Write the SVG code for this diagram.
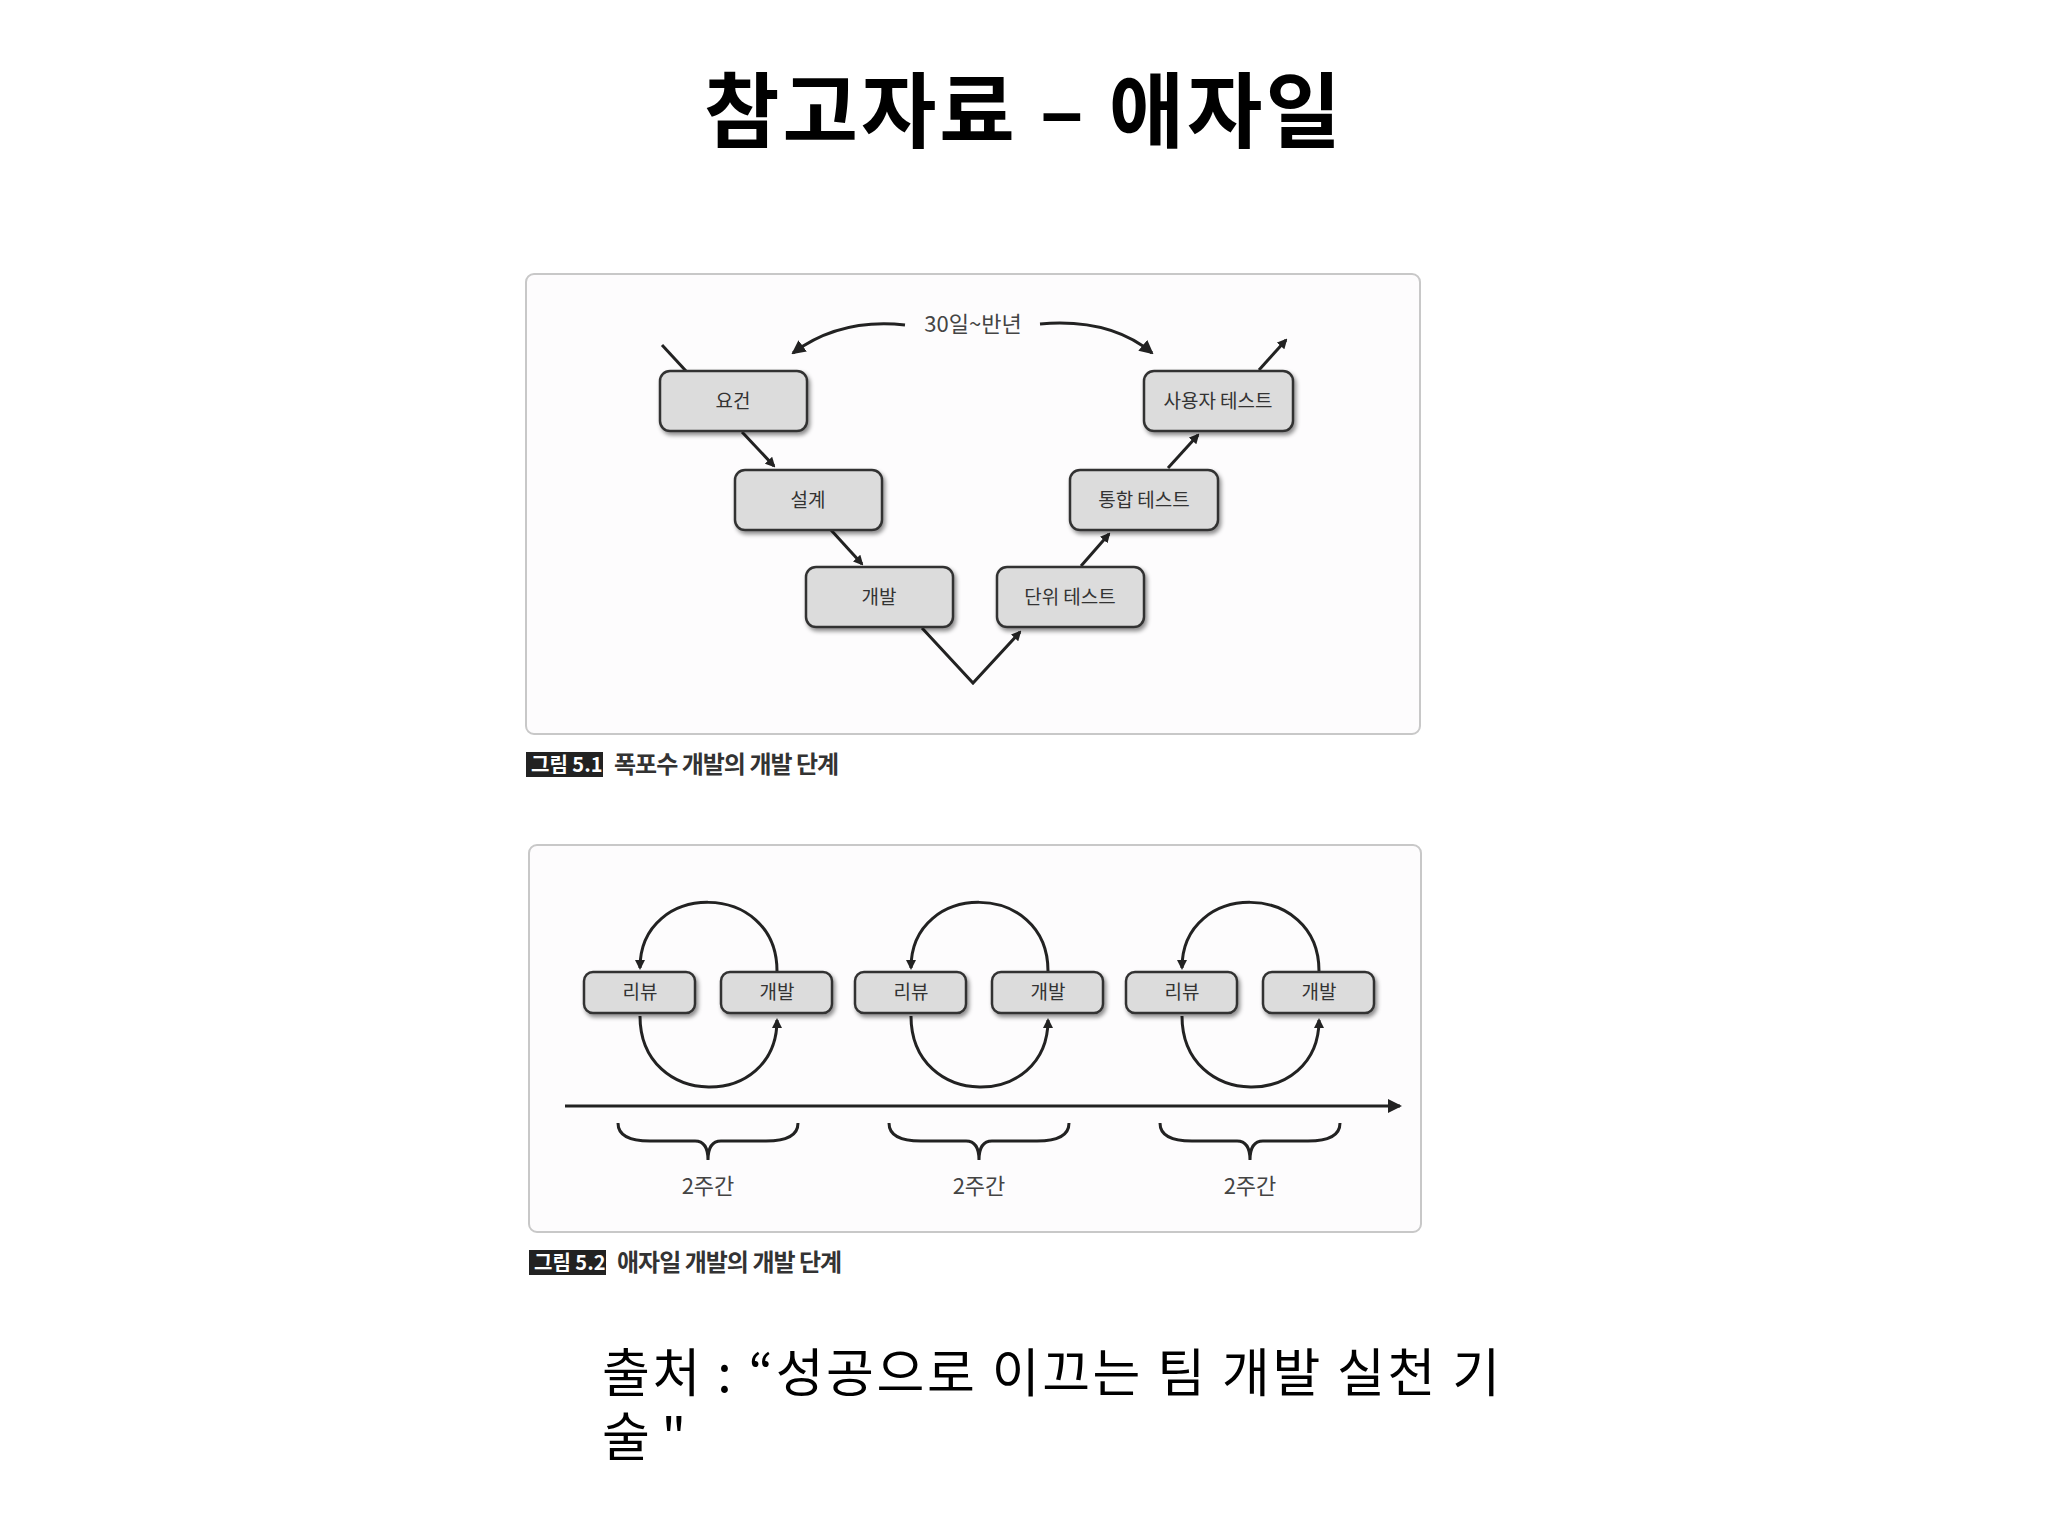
<svg xmlns="http://www.w3.org/2000/svg" width="2048" height="1536" viewBox="0 0 2048 1536">
<defs>
<marker id="ah" markerWidth="10" markerHeight="10" refX="8" refY="5" orient="auto" markerUnits="userSpaceOnUse"><path d="M0,0 L10,5 L0,10 z" fill="#222"/></marker>
<marker id="ahs" markerWidth="14" markerHeight="14" refX="12" refY="7" orient="auto" markerUnits="userSpaceOnUse"><path d="M0,0 L14,7 L0,14 z" fill="#222"/></marker>
<filter id="sh" x="-10%" y="-10%" width="130%" height="140%"><feDropShadow dx="2" dy="3" stdDeviation="2" flood-color="#000" flood-opacity="0.45"/></filter>
</defs>
<style>
text{font-family:"Noto Sans CJK KR","Liberation Sans",sans-serif;}
.panel{fill:#fdfcfd;stroke:#c8c8c8;stroke-width:2;}
.node rect{fill:#dcdcdc;stroke:#333;stroke-width:2.5;filter:url(#sh);}
.node text{font-size:19px;fill:#333;text-anchor:middle;}
.ln{fill:none;stroke:#222;stroke-width:3;}
.cap{font-size:24px;font-weight:bold;fill:#333;}
.capbox{fill:#222;}
.captxt{font-size:20px;font-weight:bold;fill:#fff;}
.lbl{font-size:22px;fill:#444;text-anchor:middle;}
</style>
<rect width="2048" height="1536" fill="#fff"/>
<text x="1024" y="141" font-size="82" font-weight="bold" text-anchor="middle" letter-spacing="3" fill="#000">참고자료 – 애자일</text>

<rect class="panel" x="526" y="274" width="894" height="460" rx="8"/>
<rect class="panel" x="529" y="845" width="892" height="387" rx="8"/>

<g id="cap1"><rect class="capbox" x="526" y="752" width="77" height="25"/><text class="captxt" x="531" y="772">그림 5.1</text><text class="cap" x="614" y="773" letter-spacing="-1">폭포수 개발의 개발 단계</text></g>
<g id="cap2"><rect class="capbox" x="529" y="1250" width="77" height="25"/><text class="captxt" x="534" y="1270">그림 5.2</text><text class="cap" x="617" y="1271" letter-spacing="-1">애자일 개발의 개발 단계</text></g>

<g id="connectors">
<line class="ln" x1="662" y1="345" x2="686" y2="371"/>
<line class="ln" x1="742" y1="432" x2="774" y2="466" marker-end="url(#ah)"/>
<line class="ln" x1="831" y1="530" x2="862" y2="564" marker-end="url(#ah)"/>
<polyline class="ln" points="922,628 973,683 1020,632" marker-end="url(#ah)"/>
<line class="ln" x1="1081" y1="566" x2="1109" y2="534" marker-end="url(#ah)"/>
<line class="ln" x1="1168" y1="468" x2="1198" y2="435" marker-end="url(#ah)"/>
<line class="ln" x1="1259" y1="370" x2="1286" y2="340" marker-end="url(#ah)"/>
<path class="ln" d="M905,325 Q840,318 793,353" marker-end="url(#ahs)"/>
<path class="ln" d="M1040,324 Q1110,318 1152,353" marker-end="url(#ahs)"/>

<g id="loops">
<g transform="translate(0,0)">
<path class="ln" stroke-width="2" d="M777,971 C777,880 640,880 640,968" marker-end="url(#ah)"/>
<path class="ln" stroke-width="2" d="M640,1016 C640,1110 777,1110 777,1020" marker-end="url(#ah)"/>
<path class="ln" stroke-width="2" d="M618,1123 Q618,1141 650,1141 L695,1141 Q708,1141 708,1160 M708,1160 Q708,1141 721,1141 L766,1141 Q798,1141 798,1123"/>
</g>
<g transform="translate(271,0)">
<path class="ln" stroke-width="2" d="M777,971 C777,880 640,880 640,968" marker-end="url(#ah)"/>
<path class="ln" stroke-width="2" d="M640,1016 C640,1110 777,1110 777,1020" marker-end="url(#ah)"/>
<path class="ln" stroke-width="2" d="M618,1123 Q618,1141 650,1141 L695,1141 Q708,1141 708,1160 M708,1160 Q708,1141 721,1141 L766,1141 Q798,1141 798,1123"/>
</g>
<g transform="translate(542,0)">
<path class="ln" stroke-width="2" d="M777,971 C777,880 640,880 640,968" marker-end="url(#ah)"/>
<path class="ln" stroke-width="2" d="M640,1016 C640,1110 777,1110 777,1020" marker-end="url(#ah)"/>
<path class="ln" stroke-width="2" d="M618,1123 Q618,1141 650,1141 L695,1141 Q708,1141 708,1160 M708,1160 Q708,1141 721,1141 L766,1141 Q798,1141 798,1123"/>
</g>
</g>
<line class="ln" x1="565" y1="1106" x2="1400" y2="1106" marker-end="url(#ahs)"/>
</g>

<text class="lbl" x="973" y="332">30일~반년</text>

<g id="n-req" class="node"><rect x="660" y="371" width="147" height="60" rx="10"/><text x="733" y="408">요건</text></g>
<g id="n-design" class="node"><rect x="735" y="470" width="147" height="60" rx="10"/><text x="808" y="507">설계</text></g>
<g id="n-dev" class="node"><rect x="806" y="567" width="147" height="60" rx="10"/><text x="879" y="604">개발</text></g>
<g id="n-unit" class="node"><rect x="997" y="567" width="147" height="60" rx="10"/><text x="1070" y="604">단위 테스트</text></g>
<g id="n-int" class="node"><rect x="1070" y="470" width="148" height="60" rx="10"/><text x="1144" y="507">통합 테스트</text></g>
<g id="n-user" class="node"><rect x="1144" y="371" width="149" height="60" rx="10"/><text x="1218" y="408">사용자 테스트</text></g>

<g id="r1" class="node"><rect x="584" y="972" width="111" height="41" rx="9"/><text x="640" y="999">리뷰</text></g>
<g id="d1" class="node"><rect x="721" y="972" width="111" height="41" rx="9"/><text x="777" y="999">개발</text></g>
<g id="r2" class="node"><rect x="855" y="972" width="111" height="41" rx="9"/><text x="911" y="999">리뷰</text></g>
<g id="d2" class="node"><rect x="992" y="972" width="111" height="41" rx="9"/><text x="1048" y="999">개발</text></g>
<g id="r3" class="node"><rect x="1126" y="972" width="111" height="41" rx="9"/><text x="1182" y="999">리뷰</text></g>
<g id="d3" class="node"><rect x="1263" y="972" width="111" height="41" rx="9"/><text x="1319" y="999">개발</text></g>

<text class="lbl" x="708" y="1194">2주간</text>
<text class="lbl" x="979" y="1194">2주간</text>
<text class="lbl" x="1250" y="1194">2주간</text>

<text x="602" y="1392" font-size="52" letter-spacing="2.6" fill="#000">출처 : “성공으로 이끄는 팀 개발 실천 기</text>
<text x="602" y="1456" font-size="52" fill="#000">술 "</text>
</svg>
